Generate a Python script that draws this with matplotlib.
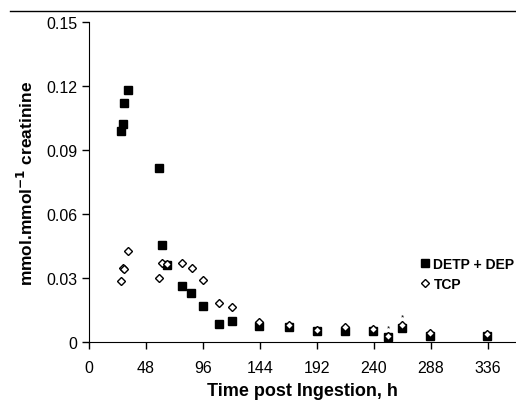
import matplotlib
matplotlib.use("Agg")
from matplotlib import pyplot
from matplotlib.lines import Line2D

# DETP + DEP (filled squares)
detp_hours = [26.7, 28.3, 29.7, 32.8, 59.0, 61.7, 65.4, 78.0, 86.2, 95.7, 109.2, 120.2,
              143.0, 168.4, 192.3, 216.1, 239.7, 252.4, 263.9, 287.7, 335.7]
detp_values = [0.0989, 0.102, 0.112, 0.118, 0.0814, 0.0455, 0.0361, 0.0264, 0.0231, 0.017,
               0.0083, 0.0097, 0.0077, 0.0069, 0.005, 0.0053, 0.005, 0.0022, 0.0064, 0.003, 0.003]

# TCP (open diamonds)
tcp_hours = [26.7, 28.4, 29.8, 32.8, 58.7, 61.8, 65.4, 78.0, 86.5, 95.7, 109.2, 120.2,
             143.0, 168.4, 192.3, 216.1, 239.7, 252.4, 263.9, 287.7, 335.7]
tcp_values = [0.0286, 0.0348, 0.0342, 0.0427, 0.0299, 0.0372, 0.0366, 0.0369, 0.0347, 0.0289,
              0.0181, 0.0163, 0.0095, 0.0081, 0.0058, 0.0069, 0.0061, 0.003, 0.008, 0.004, 0.0039]

# significance marks
star_hours = [252.4, 263.9]
star_values = [0.0068, 0.0118]

x_ticks = [0, 48, 96, 144, 192, 240, 288, 336]
y_ticks = [0, 0.03, 0.06, 0.09, 0.12, 0.15]
y_tick_labels = ["0", "0.03", "0.06", "0.09", "0.12", "0.15"]


def main() -> None:
    pyplot.rcParams["font.family"] = ["Liberation Sans", "DejaVu Sans"]
    figure = pyplot.figure(figsize=(5.16, 4.02), dpi=100)
    axes = figure.add_axes([0.1725, 0.1468, 0.8275, 0.796])

    axes.plot(detp_hours, detp_values, linestyle="none", marker="s", markersize=6,
              color="black", label="DETP + DEP", clip_on=False)
    axes.plot(tcp_hours, tcp_values, linestyle="none", marker="D", markersize=4.5,
              markerfacecolor="white", markeredgecolor="black", markeredgewidth=1,
              label="TCP", clip_on=False)
    for hour, value in zip(star_hours, star_values):
        axes.text(hour, value, "*", ha="center", va="center", fontsize=6)

    axes.set_xlim(0, 360)
    axes.set_ylim(0, 0.15)
    axes.set_xticks(x_ticks)
    axes.set_yticks(y_ticks)
    axes.set_yticklabels(y_tick_labels)
    axes.tick_params(direction="out", length=5, width=1, labelsize=11.5, colors="black")
    axes.tick_params(axis="x", pad=8)
    axes.spines["top"].set_visible(False)
    axes.spines["right"].set_visible(False)

    axes.set_xlabel("Time post Ingestion, h", fontsize=13, fontweight="bold", labelpad=5)
    axes.set_ylabel("mmol.mmol$^{\\mathbf{-1}}$ creatinine", fontsize=12.5,
                    fontweight="bold", labelpad=7)

    axes.legend(loc="upper left", bbox_to_anchor=(0.7775, 0.266), frameon=False,
                handlelength=0.6, handletextpad=0.3, borderaxespad=0, borderpad=0,
                labelspacing=0.45, prop={"weight": "bold", "size": 10})

    figure.add_artist(Line2D([0.02, 1.0], [1 - 12 / 402, 1 - 12 / 402], color="black",
                             linewidth=1, transform=figure.transFigure))

    figure.savefig("out.png", dpi=100)


if __name__ == "__main__":
    main()
